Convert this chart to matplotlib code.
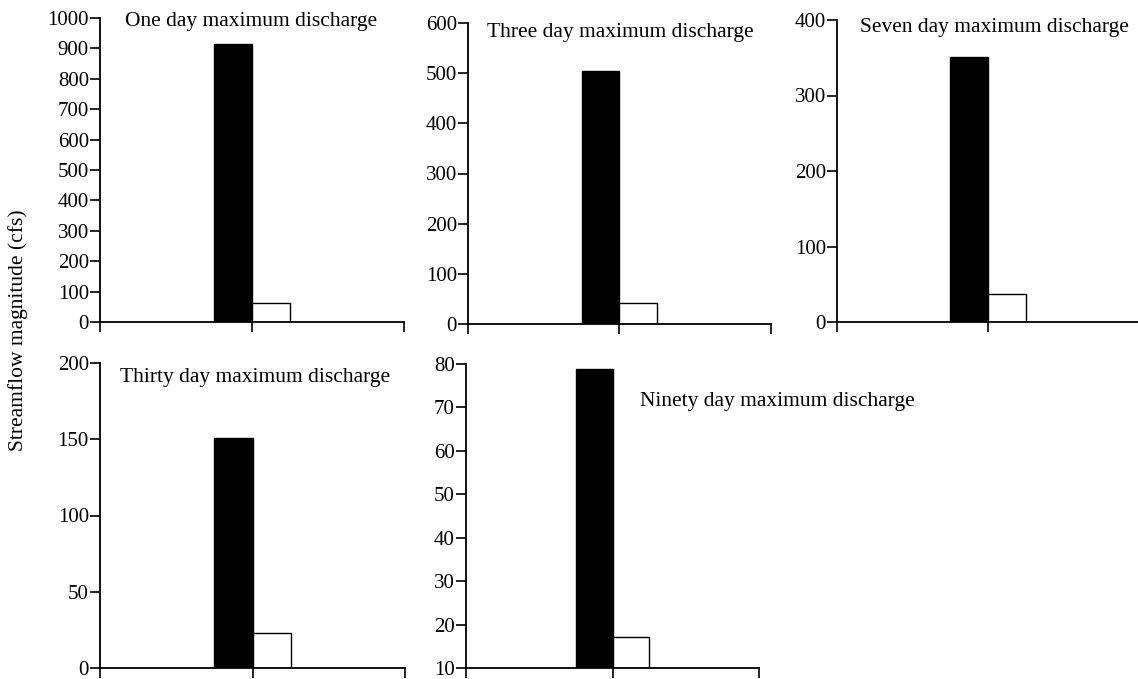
import matplotlib
matplotlib.use('Agg')
import matplotlib.pyplot as plt

plt.rcParams['font.family'] = ['Liberation Serif', 'DejaVu Serif']
plt.rcParams['font.size'] = 15

# one panel per duration: black = first bar, white = second bar
titles = ['One day maximum discharge', 'Three day maximum discharge',
          'Seven day maximum discharge', 'Thirty day maximum discharge',
          'Ninety day maximum discharge']
black_vals = [914, 504, 351, 151, 78.8]
white_vals = [62, 42, 37, 23, 17.1]
y_lims = [(0, 1000), (0, 600), (0, 400), (0, 200), (10, 80)]
y_steps = [100, 100, 100, 50, 10]

W, H = 1138, 679
# pixel boxes: left, right, top, bottom
boxes = [(100, 404, 18, 322), (468, 771, 23, 324), (837, 1139, 20, 322),
         (100, 405, 363, 668), (466, 759, 364, 668)]
title_pos = [(0.082, 0.99), (0.063, 0.967), (0.076, 0.974),
             (0.066, 0.954), (0.594, 0.878)]

fig = plt.figure(figsize=(W / 100, H / 100), dpi=100)

for i in range(5):
    l, r, t, b = boxes[i]
    ax = fig.add_axes([l / W, (H - b) / H, (r - l) / W, (b - t) / H])
    lo, hi = y_lims[i]
    ax.bar(0.875, black_vals[i] - lo, width=0.25, bottom=lo, color='black',
           edgecolor='black', linewidth=1)
    ax.bar(1.125, white_vals[i] - lo, width=0.25, bottom=lo, color='white',
           edgecolor='black', linewidth=1)
    ax.set_xlim(0, 2)
    ax.set_ylim(lo, hi)
    ax.set_xticks([0, 1, 2])
    ax.set_xticklabels([])
    ticks = list(range(lo, hi + 1, y_steps[i]))
    ax.set_yticks(ticks)
    ax.spines['top'].set_visible(False)
    ax.spines['right'].set_visible(False)
    ax.spines['left'].set_linewidth(1.3)
    ax.spines['bottom'].set_linewidth(1.3)
    ax.tick_params(direction='out', length=7, width=1.2, pad=1, labelsize=15)
    ax.text(title_pos[i][0], title_pos[i][1], titles[i], transform=ax.transAxes,
            ha='left', va='center', fontsize=15.5)

fig.text(18 / W, (H - 330) / H, 'Streamflow magnitude (cfs)', rotation=90,
         ha='center', va='center', fontsize=15.5)

fig.savefig('out.png', dpi=100)
